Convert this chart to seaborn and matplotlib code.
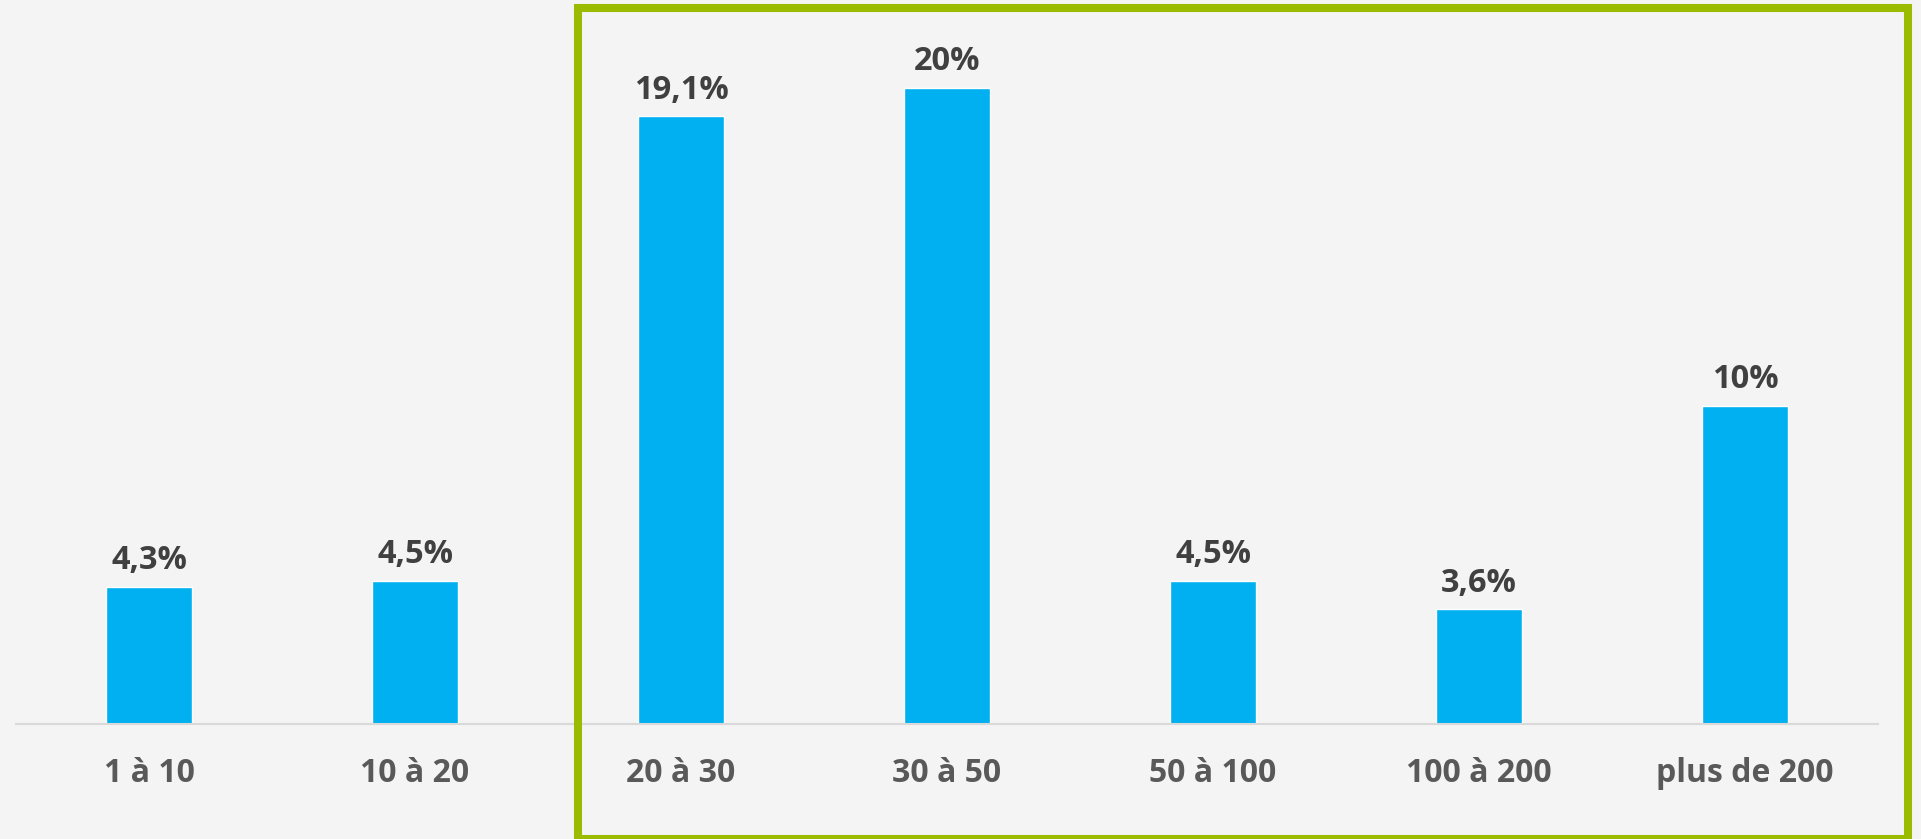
import matplotlib
matplotlib.use("Agg")
import matplotlib.pyplot as plt
import seaborn as sns
import pandas as pd
from matplotlib.patches import Rectangle

categories = ["1 à 10", "10 à 20", "20 à 30", "30 à 50", "50 à 100", "100 à 200", "plus de 200"]
values = [4.3, 4.5, 19.1, 20, 4.5, 3.6, 10]
value_labels = ["4,3%", "4,5%", "19,1%", "20%", "4,5%", "3,6%", "10%"]

sns.set_theme(style="white")
plt.rcParams['font.family'] = ['Open Sans', 'DejaVu Sans']

BG = "#F4F4F4"
fig = plt.figure(figsize=(19.21, 8.39), dpi=100, facecolor=BG)
ax = fig.add_axes([0.00833, 0.1371, 0.9693, 0.8343])
ax.set_facecolor(BG)

df = pd.DataFrame({"cat": categories, "val": values})
sns.barplot(data=df, x="cat", y="val", color="#00B0F0", saturation=1, width=0.32, ax=ax)

ax.set_xlim(-0.5, 6.5)
ax.set_ylim(0, 22)
ax.bar_label(ax.containers[0], labels=value_labels, padding=7,
             fontsize=23.5, fontweight='bold', color='#404040')

for s in ["top", "left", "right"]:
    ax.spines[s].set_visible(False)
ax.spines["bottom"].set_color("#D9D9D9")
ax.spines["bottom"].set_linewidth(1.5)
ax.set_yticks([])
ax.set_xlabel("")
ax.set_ylabel("")
ax.tick_params(axis='x', length=0, pad=24, labelsize=23, labelcolor='#595959')
for t in ax.get_xticklabels():
    t.set_fontweight('bold')

W, H = 1921, 839
x0, x1, y0, y1 = 578, 1908, 8, 839
rect = Rectangle((x0 / W, 1 - y1 / H), (x1 - x0) / W, (y1 - y0) / H,
                 transform=fig.transFigure, fill=False, edgecolor="#9BBB00",
                 linewidth=5.8, zorder=10)
fig.patches.append(rect)

fig.savefig("out.png", dpi=100, facecolor=BG)
